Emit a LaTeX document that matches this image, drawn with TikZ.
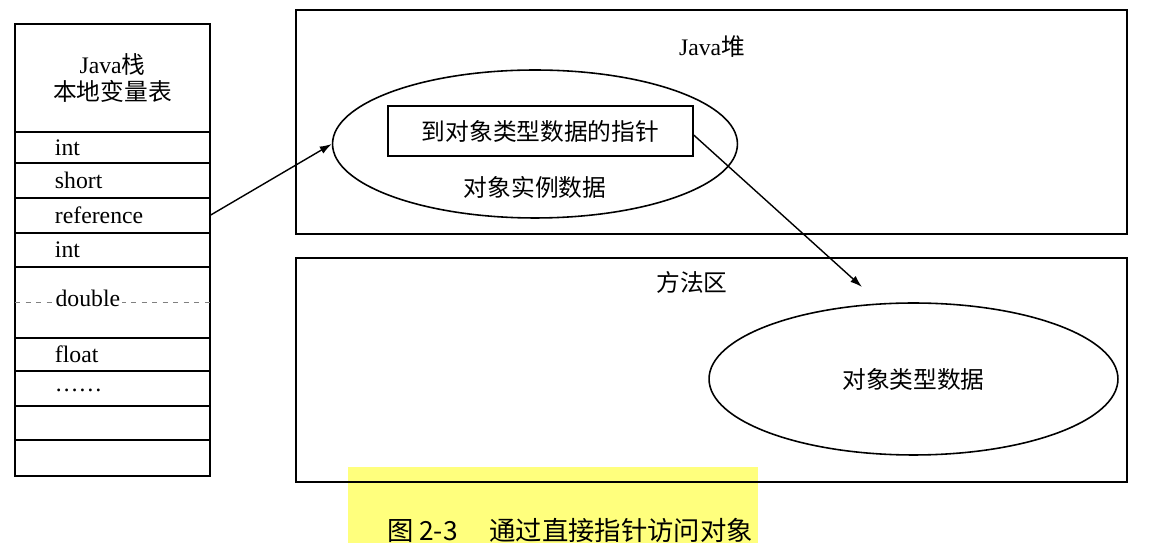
\documentclass[tikz,border=0pt]{standalone}
\usepackage{fontspec}
\setmainfont{Liberation Serif}
\newfontfamily\cjk{Noto Sans CJK SC}
\usetikzlibrary{arrows.meta}
\usetikzlibrary{positioning}
\usetikzlibrary{shapes.geometric}
\definecolor{hilite}{RGB}{255,255,125}

\begin{document}
\begin{tikzpicture}[
  x = 0.02cm, y = -0.02cm,
  > = {Latex[length=2.4mm,width=1.6mm]},
  every node/.style = {font=\fontsize{13.5pt}{15.5pt}\selectfont},
  slot/.style = {draw,line width=0.8pt,outer sep=0pt,minimum width=3.9cm,text width=2.3cm,inner xsep=0.8cm,inner ysep=0pt,align=left},
  area/.style = {draw,line width=0.9pt,minimum width=16.62cm,minimum height=4.48cm},
  blob/.style = {draw,ellipse,line width=0.9pt,inner sep=0pt},
  ptr/.style = {->,line width=0.8pt}
  ]
  \useasboundingbox (0,0) rectangle (1154,543);
  \fill[hilite] (348,467) rectangle (758,543);

  % Java stack, local variable table
  \node[slot,text width=3.5cm,inner xsep=0.2cm,align=center,minimum height=2.16cm,anchor=north west] (head) at (15,24)
    {Java{\cjk 栈}\\{\cjk 本地变量表}};
  \node[slot,minimum height=0.62cm,below=0pt of head] (int1) {int};
  \node[slot,minimum height=0.70cm,below=0pt of int1] (short) {short};
  \node[slot,minimum height=0.70cm,below=0pt of short] (ref) {reference};
  \node[slot,minimum height=0.68cm,below=0pt of ref] (int2) {int};
  \node[slot,minimum height=1.42cm,below=0pt of int2] (dbl) {};
  \node[slot,minimum height=0.66cm,below=0pt of dbl] (flt) {float};
  \node[slot,minimum height=0.70cm,below=0pt of flt] (dots) {\raisebox{-4pt}{……}};
  \node[slot,minimum height=0.68cm,below=0pt of dots] (free1) {};
  \node[slot,minimum height=0.72cm,below=0pt of free1] (free2) {};
  \draw[dashed,gray,line width=0.8pt] (dbl.west) -- (dbl.east);
  \node[fill=white,inner sep=1pt,anchor=west] (dbltxt) at ([xshift=0.77cm,yshift=0.09cm]dbl.west) {double};

  % Java heap
  \node[area] (heap) at (711.5,122) {};
  \node (heaptitle) at (712,47) {Java{\cjk 堆}};
  \node[blob,minimum width=8.1cm,minimum height=2.96cm] (inst) at (535,144) {};
  \node[draw,line width=0.8pt,minimum width=6.1cm,minimum height=1cm] (klassptr) at (540.5,131)
    {\cjk 到对象类型数据的指针};
  \node (instdata) at (535,187) {\cjk 对象实例数据};

  % method area
  \node[area] (method) at (711.5,370) {};
  \node (methodtitle) at (692,282) {\cjk 方法区};
  \node[blob,minimum width=8.18cm,minimum height=3.04cm] (klass) at (913.5,379) {\cjk 对象类型数据};

  \coordinate (tip) at (862,287);
  \draw[ptr] (ref.east) -- (inst.west);
  \draw[ptr] ([yshift=-0.08cm]klassptr.east) -- (tip);

  \node (caption) at (570,530) {\fontsize{15pt}{18pt}\selectfont\cjk 图 2-3\hspace{1.2em}通过直接指针访问对象};
\end{tikzpicture}
\end{document}
